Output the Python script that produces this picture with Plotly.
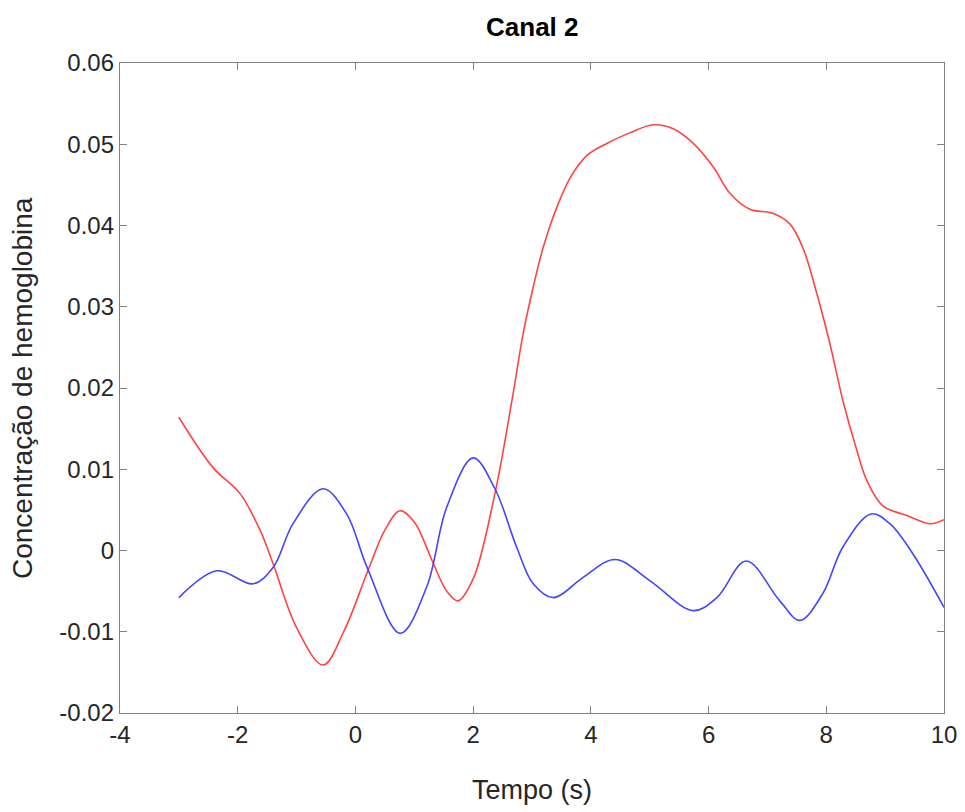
import plotly.graph_objects as go

# Oxy (red) and deoxy (blue) haemoglobin traces for channel 2
t_red = [-3.0, -2.42, -1.96, -1.62, -1.4, -1.0, -0.55, -0.2, 0.196, 0.5, 0.757, 1.0, 1.3, 1.55, 1.74, 2.0,
         2.37, 2.66, 2.85, 3.02, 3.19, 3.42, 3.65, 3.93, 4.27, 4.66, 5.06, 5.40, 5.74, 6.08, 6.37,
         6.70, 7.09, 7.38, 7.60, 7.84, 8.06, 8.28, 8.52, 8.69, 8.96, 9.37, 9.76, 10.0]
hbo = [0.0164, 0.0102, 0.0070, 0.0025, -0.0016, -0.0095, -0.0141, -0.0100, -0.0028, 0.0025, 0.0049, 0.0035,
       -0.0012, -0.0050, -0.0062, -0.0035, 0.0070, 0.0185, 0.0267, 0.0324, 0.0373, 0.0422, 0.0459,
       0.0486, 0.0501, 0.0514, 0.0524, 0.0519, 0.0501, 0.0472, 0.0439, 0.0420, 0.0415, 0.0402,
       0.0373, 0.0316, 0.0255, 0.0185, 0.0123, 0.0086, 0.0055, 0.0043, 0.0033, 0.0038]

t_blue = [-3.0, -2.35, -1.74, -1.4, -1.06, -0.55, -0.15, 0.20, 0.76, 1.21, 1.55, 2.0, 2.37, 2.74, 3.02,
          3.36, 3.87, 4.41, 5.0, 5.74, 6.14, 6.64, 7.21, 7.55, 7.94, 8.28, 8.76, 9.08, 9.47, 10.0]
hbr = [-0.0058, -0.0025, -0.0041, -0.0021, 0.0033, 0.0076, 0.0045, -0.0021, -0.0102, -0.0045, 0.0053,
       0.0114, 0.0076, 0.0004, -0.0041, -0.0058, -0.0033, -0.0011, -0.0037, -0.0074, -0.0058,
       -0.0013, -0.0062, -0.0086, -0.0053, 0.0004, 0.0045, 0.0033, -0.0004, -0.0070]

x_ticks = [-4, -2, 0, 2, 4, 6, 8, 10]
x_labels = ["-4", "-2", "0", "2", "4", "6", "8", "10"]
y_ticks = [-0.02, -0.01, 0, 0.01, 0.02, 0.03, 0.04, 0.05, 0.06]
y_labels = ["-0.02", "-0.01", "0", "0.01", "0.02", "0.03", "0.04", "0.05", "0.06"]

FONT = "Liberation Sans, Arial, sans-serif"

fig = go.Figure()
fig.add_trace(go.Scatter(x=t_red, y=hbo, mode="lines",
                         line=dict(color="#ff4444", width=1.6, shape="spline", smoothing=1.0)))
fig.add_trace(go.Scatter(x=t_blue, y=hbr, mode="lines",
                         line=dict(color="#4444ff", width=1.6, shape="spline", smoothing=1.0)))

axis_common = dict(
    showgrid=False, zeroline=False, showline=True, mirror="ticks",
    linecolor="#808080", linewidth=1.3, ticks="inside", ticklen=7,
    tickcolor="#808080", tickwidth=1.3, automargin=False,
    tickfont=dict(family=FONT, size=24, color="#262626"),
)

fig.update_layout(
    width=965, height=812,
    margin=dict(l=120, r=21, t=63, b=99),
    paper_bgcolor="white", plot_bgcolor="white",
    showlegend=False,
    title=dict(text="<b>Canal 2</b>", x=0.5516, xanchor="center", y=0.967, yanchor="middle",
               font=dict(family=FONT, size=26, color="black")),
    xaxis=dict(range=[-4, 10], tickvals=x_ticks, ticktext=x_labels, **axis_common),
    yaxis=dict(range=[-0.02, 0.06], tickvals=y_ticks, ticktext=y_labels, **axis_common),
    annotations=[
        dict(text="Tempo (s)", xref="paper", yref="paper", x=0.5, y=0,
             xanchor="center", yanchor="middle", yshift=-77, showarrow=False,
             font=dict(family=FONT, size=27, color="#262626")),
        dict(text="Concentração de hemoglobina", xref="paper", yref="paper", x=0, y=0.5,
             xanchor="center", yanchor="middle", xshift=-98, textangle=-90, showarrow=False,
             font=dict(family=FONT, size=28, color="#262626")),
    ],
)

fig.write_html("out.html")
